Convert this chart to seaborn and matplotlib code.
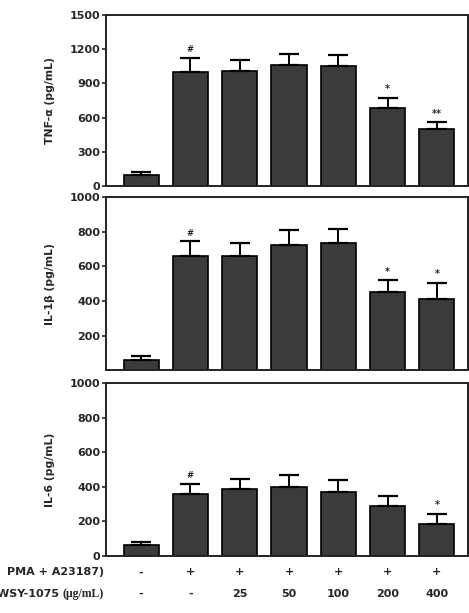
import numpy as np
import pandas as pd
import seaborn as sns
import matplotlib.pyplot as plt

# group order: control, PMA+A23187, then WSY-1075 doses
groups = ["ctrl", "pma", "d25", "d50", "d100", "d200", "d400"]
pma_row = ["-", "+", "+", "+", "+", "+", "+"]
wsy_row = ["-", "-", "25", "50", "100", "200", "400"]

tnf_mean = [95, 1000, 1010, 1065, 1050, 680, 500]
tnf_err = [30, 125, 95, 95, 95, 95, 60]
tnf_marks = ["", "#", "", "", "", "*", "**"]

il1b_mean = [60, 658, 658, 722, 735, 450, 410]
il1b_err = [25, 88, 75, 85, 82, 70, 95]
il1b_marks = ["", "#", "", "", "", "*", "*"]

il6_mean = [65, 360, 385, 400, 372, 290, 185]
il6_err = [15, 57, 62, 70, 70, 55, 60]
il6_marks = ["", "#", "", "", "", "", "*"]

sns.set_style("ticks")
plt.rcParams['font.family'] = ['DejaVu Sans']
plt.rcParams['font.weight'] = 'bold'


def draw_panel(ax, means, errs, marks, ylabel, ylim, yticks):
    df = pd.DataFrame({'group': groups, 'value': means})
    sns.barplot(data=df, x='group', y='value', order=groups, color='#3b3b3b',
                saturation=1, width=0.71, edgecolor='black', linewidth=1.2, ax=ax)
    ax.errorbar(np.arange(len(groups)), means, yerr=[np.zeros(len(errs)), errs],
                fmt='none', ecolor='black', elinewidth=1.4, capsize=7.5, capthick=1.6, zorder=1)
    span = ylim[1] - ylim[0]
    for i, m in enumerate(marks):
        if m:
            ax.text(i, means[i] + errs[i] + span * 0.02, m, ha='center', va='bottom',
                    fontsize=6 if m == "#" else 7, fontweight='bold')
    ax.set_xlim(-0.71, 6.63)
    ax.set_ylim(*ylim)
    ax.set_yticks(yticks)
    ax.set_yticklabels([str(t) for t in yticks], fontsize=8, fontweight='bold')
    ax.set_xticks([])
    ax.set_xlabel('')
    ax.set_ylabel(ylabel, fontsize=7.8, fontweight='bold')
    ax.yaxis.set_label_coords(-0.14, 0.5)
    ax.tick_params(axis='y', direction='out', length=3, width=1.2, pad=1)
    for s in ax.spines.values():
        s.set_linewidth(1.4)
        s.set_color('#222222')


fig = plt.figure(figsize=(4.69, 6.13), dpi=100)
ax1 = fig.add_axes([0.226, 0.6966, 0.772, 0.2789])
ax2 = fig.add_axes([0.226, 0.3956, 0.772, 0.2830])
ax3 = fig.add_axes([0.226, 0.0930, 0.772, 0.2822])

draw_panel(ax1, tnf_mean, tnf_err, tnf_marks, "TNF-α (pg/mL)", (0, 1500), [0, 300, 600, 900, 1200, 1500])
draw_panel(ax2, il1b_mean, il1b_err, il1b_marks, "IL-1β (pg/mL)", (0, 1000), [200, 400, 600, 800, 1000])
draw_panel(ax3, il6_mean, il6_err, il6_marks, "IL-6 (pg/mL)", (0, 1000), [0, 200, 400, 600, 800, 1000])

# treatment table under the bottom panel
trans = ax3.get_xaxis_transform()
for i, (p, w) in enumerate(zip(pma_row, wsy_row)):
    ax3.text(i, -0.095, p, transform=trans, ha='center', va='center', fontsize=8, fontweight='bold')
    ax3.text(i, -0.22, w, transform=trans, ha='center', va='center', fontsize=8, fontweight='bold')

ax3.text(-0.75, -0.095, "PMA + A23187)", transform=trans, ha='right', va='center',
         fontsize=8, fontweight='bold', clip_on=False)
unit = ax3.text(-0.75, -0.22, "(μg/mL)", transform=trans, ha='right', va='center',
                fontsize=8.5, fontweight='bold', family=['Liberation Serif', 'DejaVu Serif'], clip_on=False)
fig.canvas.draw()
bb = unit.get_window_extent()
fig.text(bb.x0 / fig.bbox.width, (bb.y0 + bb.y1) / 2 / fig.bbox.height, "WSY-1075 ",
         ha='right', va='center', fontsize=8, fontweight='bold')

fig.savefig("out.png", dpi=100)
